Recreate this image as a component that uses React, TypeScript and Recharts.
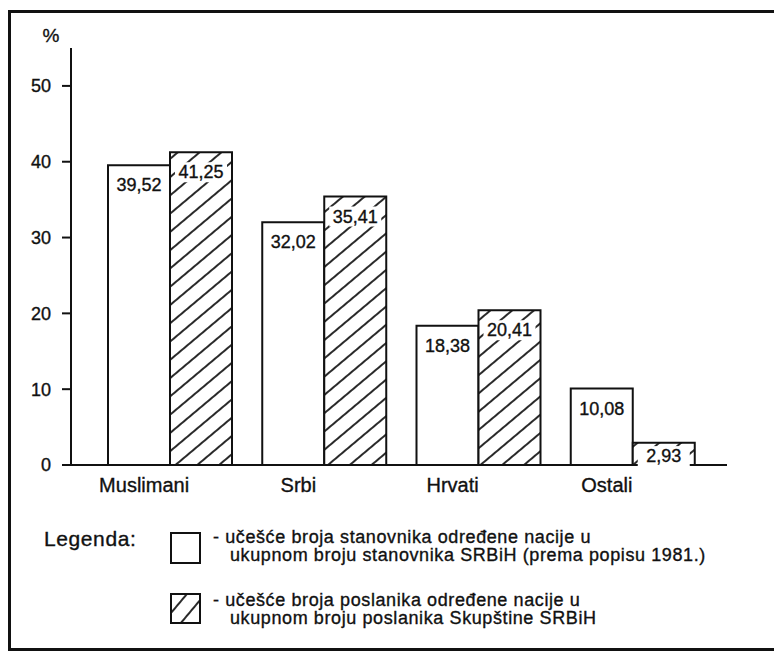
// Učešće nacija: stanovništvo (popis 1981.) vs. poslanici Skupštine SRBiH

import { BarChart, Bar, XAxis, YAxis, LabelList } from 'recharts'

// ─── Podaci ──────────────────────────────────────────────────────────────────

const categories = ['Muslimani', 'Srbi', 'Hrvati', 'Ostali']
const stanovnici = [39.52, 32.02, 18.38, 10.08]   // % stanovnika
const poslanici  = [41.25, 35.41, 20.41, 2.93]    // % poslanika
const yTicks     = [0, 10, 20, 30, 40, 50]

const legendaRows = [
  ['- učešće broja stanovnika određene nacije u', 'ukupnom broju stanovnika SRBiH (prema popisu 1981.)'],
  ['- učešće broja poslanika određene nacije u', 'ukupnom broju poslanika Skupštine SRBiH'],
]

const data = categories.map((name, i) => ({
  name,
  stanovnici: stanovnici[i],
  poslanici:  poslanici[i],
}))

const FONT = '"Liberation Sans", Arial, Helvetica, sans-serif'
const INK  = '#111'
// malo podebljan tekst, kao na skeniranom originalu
const inkText = { fontFamily: FONT, fill: INK, stroke: INK, strokeWidth: 0.35 }

// ─── Etikete ─────────────────────────────────────────────────────────────────

const fmt = (v: number) => v.toFixed(2).replace('.', ',')

function valueLabel(hatched: boolean) {
  return (props: any) => {
    const x = Number(props.x), y = Number(props.y)
    const w = Number(props.width), h = Number(props.height)
    const cx = x + w / 2
    const cy = y + Math.min(20, h * 0.6)
    return (
      <g>
        {hatched && <rect x={cx - 26} y={cy - 10} width={52} height={20} fill="#fff" />}
        <text x={cx} y={cy} textAnchor="middle" dominantBaseline="central" fontSize={18} {...inkText}>
          {fmt(Number(props.value))}
        </text>
      </g>
    )
  }
}

function CategoryTick({ x, y, payload }: any) {
  return (
    <text x={x - 26} y={y + 27} textAnchor="middle" fontSize={20} {...inkText}>
      {payload.value}
    </text>
  )
}

// ─── App ─────────────────────────────────────────────────────────────────────

export default function App() {
  return (
    <div style={{ position: 'absolute', left: 0, top: 0, width: 774, height: 652, overflow: 'hidden', background: '#fff' }}>
      <BarChart width={774} height={652} data={data} barGap={0} barSize={62}
        margin={{ top: 48, right: 47, left: 0, bottom: 147 }}>
        <defs>
          <pattern id="hatch" width="14" height="14" patternUnits="userSpaceOnUse" patternTransform="rotate(-40)">
            <rect width="14" height="14" fill="#fff" />
            <line x1="0" y1="7" x2="14" y2="7" stroke={INK} strokeWidth={1.8} />
          </pattern>
        </defs>
        <XAxis dataKey="name" interval={0} height={40} padding={{ left: 22, right: 17 }}
          tickLine={false} tickSize={0} tickMargin={0}
          axisLine={{ stroke: INK, strokeWidth: 2 }} tick={<CategoryTick />} />
        <YAxis domain={[0, 55]} ticks={yTicks} width={71} tickSize={9} tickMargin={11}
          axisLine={{ stroke: INK, strokeWidth: 2 }} tickLine={{ stroke: INK, strokeWidth: 2 }}
          tick={{ ...inkText, fontSize: 18 }} />
        <Bar dataKey="stanovnici" fill="#fff" stroke={INK} strokeWidth={2} isAnimationActive={false}>
          <LabelList dataKey="stanovnici" content={valueLabel(false)} />
        </Bar>
        <Bar dataKey="poslanici" fill="url(#hatch)" stroke={INK} strokeWidth={2} isAnimationActive={false}>
          <LabelList dataKey="poslanici" content={valueLabel(true)} />
        </Bar>
      </BarChart>

      {/* okvir, oznaka % i legenda */}
      <svg width={774} height={652} style={{ position: 'absolute', left: 0, top: 0, pointerEvents: 'none' }}>
        <defs>
          <pattern id="hatchLeg" width="14" height="14" patternUnits="userSpaceOnUse" patternTransform="rotate(-50)">
            <rect width="14" height="14" fill="#fff" />
            <line x1="0" y1="7" x2="14" y2="7" stroke={INK} strokeWidth={1.8} />
          </pattern>
        </defs>
        <rect x={9.5} y={11.5} width={800} height={638} fill="none" stroke={INK} strokeWidth={3} />
        <text x={51} y={35} textAnchor="middle" dominantBaseline="central" fontSize={19} {...inkText}>%</text>

        <text x={44} y={538} dominantBaseline="central" fontSize={21} letterSpacing={0.6} {...inkText}>Legenda:</text>
        <rect x={171} y={533} width={29} height={30} fill="#fff" stroke={INK} strokeWidth={2} />
        <rect x={171} y={594} width={29} height={29} fill="url(#hatchLeg)" stroke={INK} strokeWidth={2} />
        {legendaRows.map((row, i) => (
          <g key={i}>
            <text x={213} y={537 + i * 63} dominantBaseline="central" fontSize={18} letterSpacing={0.6} {...inkText}>{row[0]}</text>
            <text x={230} y={555 + i * 63} dominantBaseline="central" fontSize={18} letterSpacing={0.6} {...inkText}>{row[1]}</text>
          </g>
        ))}
      </svg>
    </div>
  )
}
